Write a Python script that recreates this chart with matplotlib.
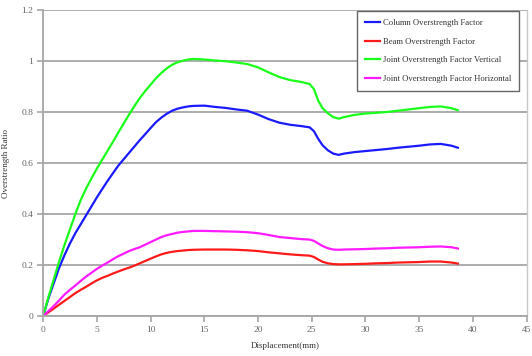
#!/usr/bin/env python3
"""
Overstrength ratio vs displacement for column, beam and joint factors.
"""
import matplotlib
matplotlib.use('Agg')
import matplotlib.pyplot as plt

# ── Displacement samples (mm) ──
disp = [0, 0.5, 1, 1.5, 2, 2.5, 3, 3.5, 4, 4.5, 5, 5.5, 6, 6.5, 7, 7.5, 8,
        8.5, 9, 9.5, 10, 10.5, 11, 11.5, 12, 12.5, 13, 13.5, 14,
        15, 16, 17, 18, 19, 20, 21, 22, 23, 24,
        24.8, 25.2, 25.6, 26, 26.5, 27, 27.5, 28, 29, 30,
        31, 32, 33, 34, 35, 36, 37, 38, 38.6]

column = [0, 0.07, 0.13, 0.19, 0.24, 0.285, 0.325, 0.36, 0.395, 0.43, 0.465,
          0.498, 0.53, 0.56, 0.59, 0.615, 0.64, 0.665, 0.69, 0.713, 0.737,
          0.76, 0.778, 0.793, 0.805, 0.813, 0.818, 0.822, 0.824,
          0.825, 0.82, 0.816, 0.81, 0.805, 0.79, 0.772, 0.758, 0.75, 0.745,
          0.74, 0.725, 0.695, 0.67, 0.65, 0.637, 0.632, 0.637, 0.643, 0.647,
          0.651, 0.655, 0.66, 0.664, 0.668, 0.673, 0.675, 0.668, 0.66]

beam = [0, 0.015, 0.03, 0.045, 0.06, 0.075, 0.09, 0.103, 0.115, 0.128, 0.14,
        0.15, 0.158, 0.167, 0.175, 0.183, 0.19, 0.198, 0.207, 0.216, 0.225,
        0.234, 0.242, 0.248, 0.252, 0.255, 0.257, 0.259, 0.26,
        0.261, 0.261, 0.261, 0.26, 0.258, 0.255, 0.25, 0.246, 0.242, 0.239,
        0.237, 0.232, 0.222, 0.213, 0.207, 0.204, 0.203, 0.203, 0.204, 0.205,
        0.207, 0.208, 0.21, 0.211, 0.212, 0.214, 0.214, 0.21, 0.206]

joint_vert = [0, 0.075, 0.145, 0.215, 0.28, 0.34, 0.40, 0.455, 0.50, 0.54,
              0.578, 0.613, 0.648, 0.683, 0.72, 0.755, 0.79, 0.823, 0.855,
              0.882, 0.907, 0.932, 0.953, 0.971, 0.985, 0.995, 1.001, 1.006,
              1.008,
              1.006, 1.002, 0.999, 0.994, 0.988, 0.975, 0.955, 0.937, 0.925,
              0.918, 0.91, 0.89, 0.845, 0.815, 0.795, 0.78, 0.774, 0.78, 0.789,
              0.794, 0.797, 0.8, 0.805, 0.81, 0.815, 0.82, 0.822, 0.815, 0.807]

joint_horiz = [0, 0.02, 0.04, 0.062, 0.085, 0.103, 0.12, 0.138, 0.155, 0.17,
               0.185, 0.198, 0.21, 0.223, 0.235, 0.245, 0.255, 0.263, 0.27,
               0.28, 0.29, 0.3, 0.31, 0.317, 0.322, 0.327, 0.33, 0.332, 0.334,
               0.334, 0.333, 0.332, 0.331, 0.329, 0.325, 0.318, 0.31, 0.306,
               0.302, 0.3, 0.295, 0.285, 0.275, 0.266, 0.261, 0.26, 0.261,
               0.262, 0.263, 0.265, 0.266, 0.268, 0.269, 0.27, 0.272, 0.273,
               0.27, 0.265]

x_ticks = [0, 5, 10, 15, 20, 25, 30, 35, 40, 45]
y_ticks = [0, 0.2, 0.4, 0.6, 0.8, 1.0, 1.2]
y_labels = ['0', '0.2', '0.4', '0.6', '0.8', '1', '1.2']

SERIF = ['Liberation Serif', 'DejaVu Serif']
AXIS_GRAY = '#a6a6a6'
TEXT_GRAY = '#666666'

fig = plt.figure(figsize=(5.32, 3.56), dpi=100)
fig.patch.set_facecolor('white')
ax = fig.add_axes([0.081, 0.112, 0.909, 0.860])

ax.plot(disp, column, color='#1a1aff', lw=1.6, label='Column Overstrength Factor')
ax.plot(disp, beam, color='#ff1a1a', lw=1.6, label='Beam Overstrength Factor')
ax.plot(disp, joint_vert, color='#1aff1a', lw=1.6, label='Joint Overstrength Factor Vertical')
ax.plot(disp, joint_horiz, color='#ff1aff', lw=1.6, label='Joint Overstrength Factor Horizontal')

ax.set_xlim(0, 45)
ax.set_ylim(0, 1.2)
ax.set_xticks(x_ticks)
ax.set_yticks(y_ticks)
ax.set_yticklabels(y_labels)

ax.grid(True, axis='y', color=AXIS_GRAY, lw=1.3)
ax.set_axisbelow(True)
for side in ('left', 'bottom'):
    ax.spines[side].set_color(AXIS_GRAY)
    ax.spines[side].set_linewidth(1.3)
ax.spines['right'].set_color('#c8c8c8')
ax.spines['right'].set_linewidth(1.0)
ax.spines['top'].set_visible(False)

ax.tick_params(axis='both', direction='out', length=4, width=1.2, color=AXIS_GRAY,
               labelcolor=TEXT_GRAY, labelsize=6.8, pad=3)
for lbl in ax.get_xticklabels() + ax.get_yticklabels():
    lbl.set_family(SERIF)

ax.set_xlabel('Displacement(mm)', family=SERIF, fontsize=6.5, color='#333333', labelpad=6)
ax.set_ylabel('Overstrength Ratio', family=SERIF, fontsize=6.5, color='#333333', labelpad=8)

leg = ax.legend(loc='upper left', bbox_to_anchor=(0.671, 0.969),
                bbox_transform=fig.transFigure, prop={'family': SERIF, 'size': 6.2},
                frameon=True, fancybox=False, edgecolor='#666666', framealpha=1,
                handlelength=1.8, handletextpad=0.3, labelspacing=1.25,
                borderpad=0.9, borderaxespad=0)
leg.get_frame().set_linewidth(1.0)
for t in leg.get_texts():
    t.set_color('#333333')

fig.savefig('out.png', dpi=100, facecolor='white')
plt.close(fig)
